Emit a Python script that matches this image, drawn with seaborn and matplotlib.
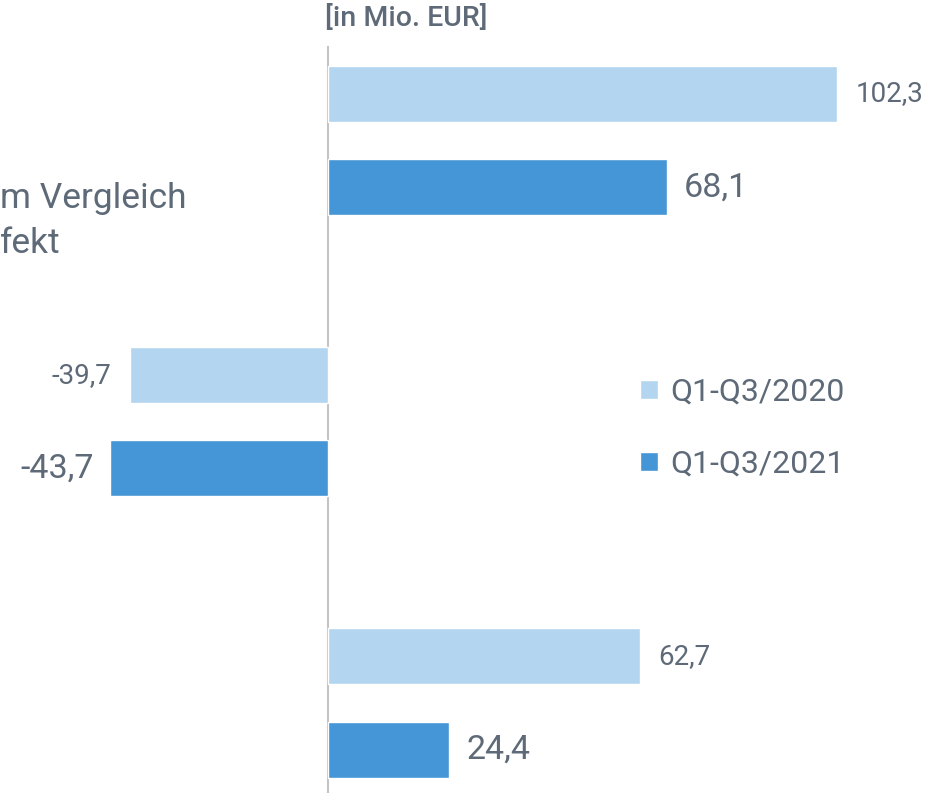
import matplotlib
matplotlib.use("Agg")
import matplotlib.pyplot as plt
import pandas as pd
import seaborn as sns

# data
categories = ["A", "B", "C"]
periods = ["Q1-Q3/2020", "Q1-Q3/2021"]
values_2020 = [102.3, -39.7, 62.7]
values_2021 = [68.1, -43.7, 24.4]
unit_label = "[in Mio. EUR]"
cat_label_visible = "m Vergleich\nfekt"

df = pd.DataFrame({
    "category": categories * 2,
    "period": [periods[0]] * 3 + [periods[1]] * 3,
    "value": values_2020 + values_2021,
})

sns.set_theme(style="white")
plt.rcParams["font.family"] = ["Roboto", "DejaVu Sans"]
txt = "#5e6a78"
light = "#b3d5f0"
dark = "#4596d6"

fig = plt.figure(figsize=(9.39, 7.93), dpi=100)
ax = fig.add_axes([0, 0, 1, 747 / 793])

sns.barplot(data=df, x="value", y="category", hue="period", orient="h",
            palette=[light, dark], width=0.664, gap=0.4, ax=ax, saturation=1)

ax.set_xlim(-65.9, 122.8)
ax.set_ylim(2.32, -0.336)
ax.axvline(0, color="#c4c4c4", lw=1.5, zorder=0)
for s in ax.spines.values():
    s.set_visible(False)
ax.set_xticks([])
ax.set_yticks([])
ax.set_xlabel("")
ax.set_ylabel("")

sizes = [20, 24.5]
pads = [13.5, 12]
for cont, fs, pad in zip(ax.containers, sizes, pads):
    labels = [f"{b.get_width():.1f}".replace(".", ",") for b in cont]
    ax.bar_label(cont, labels=labels, padding=pad, fontsize=fs, color=txt)

sns.move_legend(ax, "center left", bbox_to_anchor=(640 / 939, 1 - 428 / 793),
                bbox_transform=fig.transFigure, frameon=False, title=None,
                fontsize=23, labelcolor=txt, handlelength=0.55, handleheight=0.55,
                handletextpad=0.4, labelspacing=1.35, borderpad=0, borderaxespad=0)

fig.text(325 / 939, 1 - 19 / 793, unit_label, ha="left", va="center",
         fontsize=20.5, fontweight="medium", color=txt)
fig.text(0, 1 - 221 / 793, cat_label_visible, ha="left", va="center",
         fontsize=25.5, color=txt, linespacing=1.45)

fig.savefig("out.png", dpi=100)
